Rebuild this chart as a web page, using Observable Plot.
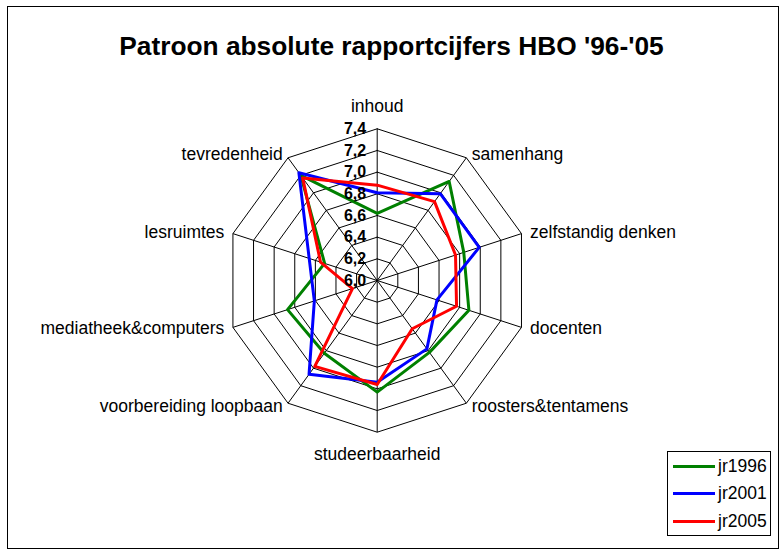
<!DOCTYPE html>
<html>
<head>
<meta charset="utf-8">
<script src="https://cdn.jsdelivr.net/npm/d3@7"></script>
<script src="https://cdn.jsdelivr.net/npm/@observablehq/plot@0.6"></script>
<style>
  html, body { margin: 0; padding: 0; background: #fff; }
  #wrap { position: relative; width: 783px; height: 554px; font-family: "Liberation Sans", Arial, sans-serif; overflow: hidden; }
  #frame { position: absolute; left: 7px; top: 6px; width: 770px; height: 541px; border: 1px solid #000; box-sizing: content-box; }
  #title { position: absolute; left: 0; top: 33px; width: 783px; text-align: center; font-size: 26.3px; line-height: 26px; font-weight: bold; color: #000; }
  #chart { position: absolute; left: 0; top: 0; }
  #legend { position: absolute; left: 667px; top: 451px; width: 102px; height: 83px; border: 1px solid #000; background: #fff; }
  .row { position: absolute; left: 0; height: 20px; display: flex; align-items: center; font-size: 17.5px; }
  .sw { width: 42px; height: 3px; margin-left: 5px; margin-right: 3px; }
</style>
</head>
<body>
<div id="wrap">
  <div id="frame"></div>
  <div id="chart"></div>
  <div id="title"></div>
  <div id="legend"></div>
</div>
<script>
// ---- data ----
const titleText = "Patroon absolute rapportcijfers HBO '96-'05";
const categories = ["inhoud", "samenhang", "zelfstandig denken", "docenten", "roosters&tentamens",
  "studeerbaarheid", "voorbereiding loopbaan", "mediatheek&computers", "lesruimtes", "tevredenheid"];
const seriesNames = ["jr1996", "jr2001", "jr2005"];
const jr1996 = [6.62, 7.13, 6.84, 6.89, 6.82, 7.03, 6.83, 6.87, 6.51, 7.20];
const jr2001 = [6.81, 6.99, 6.99, 6.58, 6.78, 6.94, 7.07, 6.61, 6.66, 7.23];
const jr2005 = [6.88, 6.90, 6.76, 6.77, 6.55, 6.96, 6.98, 6.24, 6.55, 7.17];
const tickValues = [6.0, 6.2, 6.4, 6.6, 6.8, 7.0, 7.2, 7.4];
const tickLabels = ["6,0", "6,2", "6,4", "6,6", "6,8", "7,0", "7,2", "7,4"];
const seriesColors = ["#008000", "#0000ff", "#ff0000"];

// ---- layout ----
const W = 783, H = 554;
const cx = 376.7, cy = 280;
const rMin = tickValues[0], rMax = tickValues[tickValues.length - 1];
const Rpx = 151.7;
const k = Rpx / (rMax - rMin); // px per unit
const n = categories.length;
const ang = i => (i * 2 * Math.PI) / n;
const px2u = p => p / k;

const seriesData = [jr1996, jr2001, jr2005];
const lineRows = [];
seriesData.forEach((vals, s) => {
  for (let i = 0; i <= n; i++) {
    const j = i % n;
    const r = vals[j] - rMin;
    lineRows.push({ series: seriesNames[s], x: r * Math.sin(ang(j)), y: r * Math.cos(ang(j)) });
  }
});

const ringRows = [];
tickValues.slice(1).forEach(t => {
  for (let i = 0; i <= n; i++) {
    const j = i % n;
    const r = t - rMin;
    ringRows.push({ ring: t, x: r * Math.sin(ang(j)), y: r * Math.cos(ang(j)) });
  }
});

const spokes = categories.map((c, i) => ({
  x2: (rMax - rMin) * Math.sin(ang(i)), y2: (rMax - rMin) * Math.cos(ang(i))
}));

const tickRows = tickValues.map((t, i) => ({ y: t - rMin, label: tickLabels[i] }));

const labelRows = categories.map((c, i) => {
  const s = Math.sin(ang(i)), co = Math.cos(ang(i));
  const R = rMax - rMin;
  const side = Math.abs(s) < 0.01 ? "middle" : (s > 0 ? "start" : "end");
  let x, y;
  if (side === "middle") {
    x = 0;
    y = R * co + px2u(22) * co;
  } else {
    x = R * s + px2u(9) * s;
    y = R * co + px2u(4) * co;
  }
  return { label: c, x, y, side };
});

const plot = Plot.plot({
  width: W,
  height: H,
  margin: 0,
  x: { domain: [-cx / k, (W - cx) / k], range: [0, W], axis: null },
  y: { domain: [-(H - cy) / k, cy / k], range: [H, 0], axis: null },
  style: { fontFamily: "'Liberation Sans', Arial, sans-serif", background: "transparent", overflow: "visible" },
  marks: [
    Plot.line(ringRows, { x: "x", y: "y", z: "ring", stroke: "#000", strokeWidth: 1 }),
    Plot.link(spokes, { x1: 0, y1: 0, x2: "x2", y2: "y2", stroke: "#000", strokeWidth: 1 }),
    Plot.line(lineRows, {
      x: "x", y: "y", z: "series",
      stroke: d => seriesColors[seriesNames.indexOf(d.series)],
      strokeWidth: 3, strokeLinejoin: "round"
    }),
    Plot.text(tickRows, {
      x: 0, y: "y", text: "label", textAnchor: "end", dx: -11,
      fontWeight: "bold", fontSize: 16, fill: "#000", lineAnchor: "middle"
    }),
    Plot.text(labelRows.filter(d => d.side === "start"), {
      x: "x", y: "y", text: "label", textAnchor: "start", fontSize: 17.5, fill: "#000", lineAnchor: "middle"
    }),
    Plot.text(labelRows.filter(d => d.side === "end"), {
      x: "x", y: "y", text: "label", textAnchor: "end", fontSize: 17.5, fill: "#000", lineAnchor: "middle"
    }),
    Plot.text(labelRows.filter(d => d.side === "middle"), {
      x: "x", y: "y", text: "label", textAnchor: "middle", fontSize: 17.5, fill: "#000", lineAnchor: "middle"
    })
  ]
});
document.getElementById("chart").appendChild(plot);
document.getElementById("title").textContent = titleText;

const legend = document.getElementById("legend");
seriesNames.forEach((name, i) => {
  const row = document.createElement("div");
  row.className = "row";
  row.style.top = (4 + i * 27.7) + "px";
  const sw = document.createElement("div");
  sw.className = "sw";
  sw.style.background = seriesColors[i];
  const tx = document.createElement("span");
  tx.textContent = name;
  row.appendChild(sw);
  row.appendChild(tx);
  legend.appendChild(row);
});
</script>
</body>
</html>
